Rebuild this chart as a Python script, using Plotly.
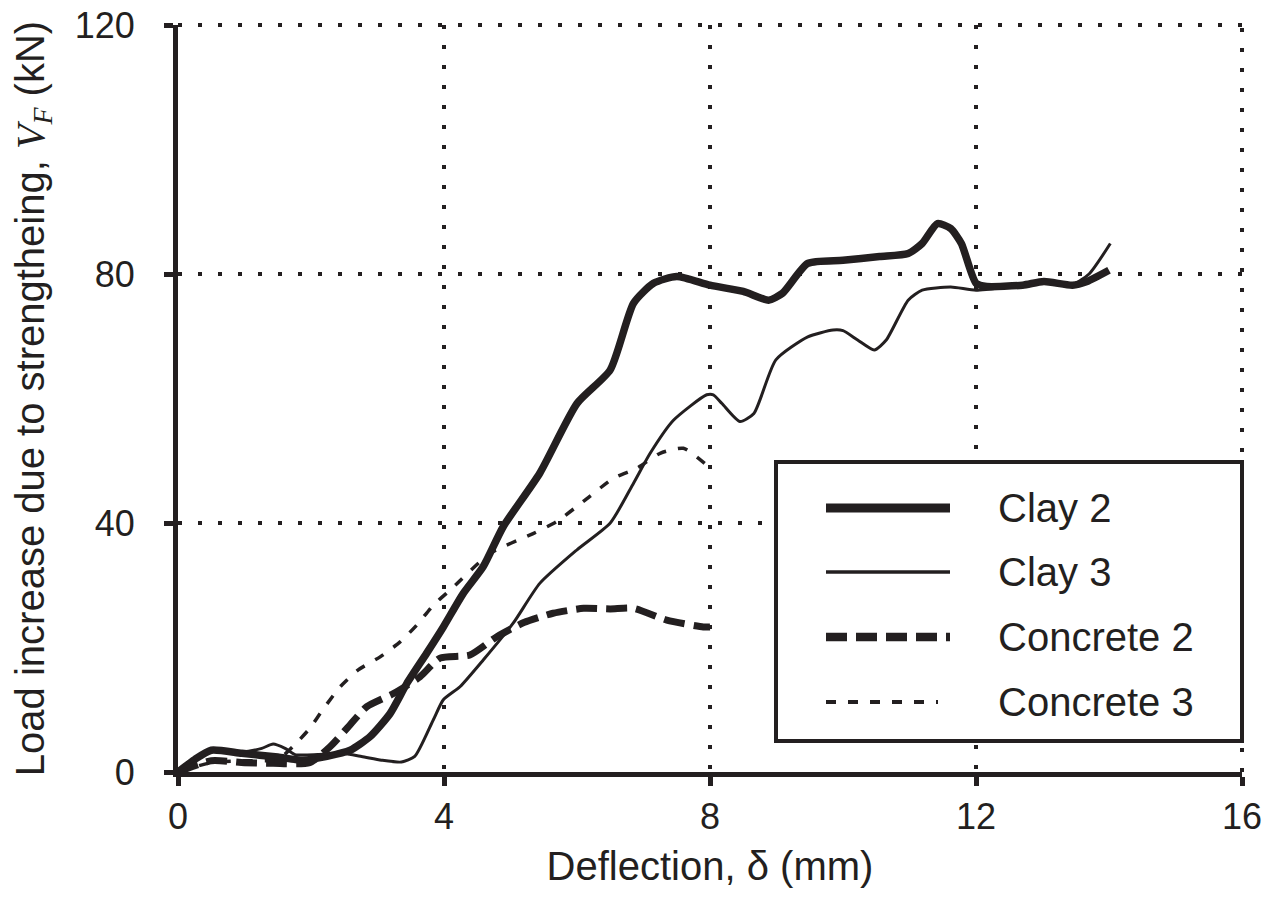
import plotly.graph_objects as go

# ---------------- data ----------------
clay2_x = [0, 0.25, 0.5, 0.96, 1.5, 1.88, 2.24, 2.59, 2.89, 3.19, 3.44, 3.74, 3.99, 4.29, 4.59,
           4.89, 5.44, 6.0, 6.5, 6.85, 7.15, 7.5, 8.0, 8.5, 8.88, 9.09, 9.47, 10.0, 10.55,
           10.98, 11.19, 11.42, 11.62, 11.78, 12.0, 12.16, 12.7, 13.02, 13.45, 13.67, 14.0]
clay2_y = [0, 2.0, 3.5, 3.0, 2.4, 1.9, 2.5, 3.5, 5.7, 9.4, 14.2, 19.1, 23.3, 28.7, 33.0,
           39.4, 48.0, 59.2, 64.6, 75.3, 78.5, 79.6, 78.2, 77.2, 75.8, 76.9, 81.7, 82.2, 82.8,
           83.3, 84.9, 88.1, 87.3, 84.9, 78.5, 78.0, 78.2, 78.8, 78.2, 78.8, 80.6]

clay3_x = [0, 0.46, 0.95, 1.26, 1.43, 1.61, 1.76, 2.1, 2.46, 2.76, 3.06, 3.36, 3.56, 3.84,
           3.99, 4.24, 4.59, 5.04, 5.44, 6.0, 6.5, 6.85, 7.1, 7.45, 7.95, 8.05, 8.18, 8.45,
           8.66, 8.99, 9.47, 9.85, 10.0, 10.22, 10.47, 10.65, 10.98, 11.19, 11.62, 12.0,
           12.5, 13.0, 13.45, 13.7, 14.02]
clay3_y = [0, 3.5, 3.2, 3.8, 4.5, 3.8, 2.8, 2.8, 3.0, 2.5, 1.9, 1.6, 2.5, 8.4,
           11.6, 13.7, 18.0, 23.9, 30.3, 35.7, 40.0, 46.4, 51.2, 56.5, 60.6, 60.6, 59.2, 56.3,
           57.6, 66.2, 69.9, 71.0, 70.9, 69.4, 67.8, 69.4, 75.8, 77.4, 77.9, 77.4,
           78.0, 78.8, 78.3, 80.0, 84.9]

conc2_x = [0, 0.5, 1.0, 1.43, 1.98, 2.29, 2.54, 2.84, 3.24, 3.64, 3.94, 4.39, 4.79, 5.2,
           5.64, 6.1, 6.5, 6.85, 7.35, 7.9, 8.0]
conc2_y = [0, 1.8, 1.5, 1.4, 1.5, 4.1, 7.0, 10.5, 12.6, 15.3, 18.3, 18.8, 21.7, 24.0,
           25.5, 26.3, 26.2, 26.3, 24.4, 23.3, 23.3]

conc3_x = [0, 0.5, 1.0, 1.5, 1.73, 1.98, 2.19, 2.44, 2.71, 3.04, 3.34, 3.59, 3.84, 4.12,
           4.69, 5.34, 5.69, 6.1, 6.55, 6.9, 7.25, 7.6, 7.95]
conc3_y = [0, 1.5, 1.8, 2.0, 4.1, 7.0, 10.2, 13.7, 16.4, 18.5, 20.9, 23.6, 26.8, 29.5,
           35.1, 38.3, 40.2, 43.5, 47.2, 48.8, 51.2, 52.0, 49.3]

series_names = ["Clay 2", "Clay 3", "Concrete 2", "Concrete 3"]
x_ticks = [0, 4, 8, 12, 16]
y_ticks = [0, 40, 80, 120]

# ---------------- style ----------------
INK = "#231f20"
FONT = "Liberation Sans, Arial, sans-serif"
styles = [
    dict(width=7.5, dash="solid"),
    dict(width=3, dash="solid"),
    dict(width=7, dash="21px,9px"),
    dict(width=3.5, dash="10px,12px"),
]
data = [(clay2_x, clay2_y), (clay3_x, clay3_y), (conc2_x, conc2_y), (conc3_x, conc3_y)]

fig = go.Figure()
for (xs, ys), name, st in zip(data, series_names, styles):
    fig.add_trace(go.Scatter(
        x=xs, y=ys, mode="lines", name=name,
        line=dict(color=INK, width=st["width"], dash=st["dash"], shape="spline", smoothing=0.6),
        showlegend=False,
    ))

# ---------------- hand-drawn legend box (paper coordinates) ----------------
# target screen positions of the plot area (page has an 8px body margin)
L, R, T, B = 178, 1242, 25, 772
OFF = 8
def px(x):
    return (x - L) / (R - L)
def py(y):
    return (B - y) / (B - T)

shapes = [dict(type="rect", xref="paper", yref="paper",
               x0=px(776), x1=px(1242), y0=py(741), y1=py(462),
               line=dict(color=INK, width=4), fillcolor="white", layer="above")]
rows = [508, 572, 637, 702]
sample_end = [950, 950, 950, 938]
annotations = []
for name, st, ry, se in zip(series_names, styles, rows, sample_end):
    shapes.append(dict(type="line", xref="paper", yref="paper",
                       x0=px(826), x1=px(se), y0=py(ry), y1=py(ry),
                       line=dict(color=INK, width=st["width"] + (1.5 if st["width"] > 5 else 0.5),
                                 dash=st["dash"]),
                       layer="above"))
    annotations.append(dict(xref="paper", yref="paper", x=px(996), y=py(ry),
                            xanchor="left", yanchor="middle", text=name, showarrow=False,
                            font=dict(family=FONT, size=40, color=INK)))

# edge grid lines (dotted) at x=16 and y=120
shapes.append(dict(type="line", xref="paper", yref="paper", x0=1, x1=1, y0=0, y1=1,
                   line=dict(color=INK, width=4, dash="4px,16px"), layer="below"))
shapes.append(dict(type="line", xref="paper", yref="paper", x0=0, x1=1, y0=1, y1=1,
                   line=dict(color=INK, width=4, dash="4px,16px"), layer="below"))

axis_common = dict(
    showgrid=True, gridcolor=INK, gridwidth=4, griddash="4px,16px",
    zeroline=False, showline=True, linecolor=INK, linewidth=5,
    ticks="outside", ticklen=9, tickwidth=5, tickcolor=INK,
    tickfont=dict(family=FONT, size=36, color=INK),
    automargin=False, ticklabeloverflow="allow",
)

W, H = 1282, 901
fig.update_layout(
    width=W, height=H,
    margin=dict(l=L - OFF, r=W - (R - OFF), t=T - OFF, b=H - (B - OFF)),
    paper_bgcolor="white", plot_bgcolor="white",
    xaxis=dict(range=[0, 16], tickvals=x_ticks, ticktext=[str(v) for v in x_ticks],
               title=dict(text="Deflection, δ (mm)", font=dict(family=FONT, size=40, color=INK),
                          standoff=17),
               **axis_common),
    yaxis=dict(range=[0, 120], tickvals=y_ticks, ticktext=[str(v) for v in y_ticks],
               ticklabelstandoff=22,
               title=dict(text="Load increase due to strengtheing, "
                               "<span style='font-family:Liberation Serif'><i>V</i>"
                               "<sub><i>F</i></sub></span> (kN)",
                          font=dict(family=FONT, size=40, color=INK), standoff=36),
               **axis_common),
    shapes=shapes,
    annotations=annotations,
    showlegend=False,
)

fig.write_html("out.html")
